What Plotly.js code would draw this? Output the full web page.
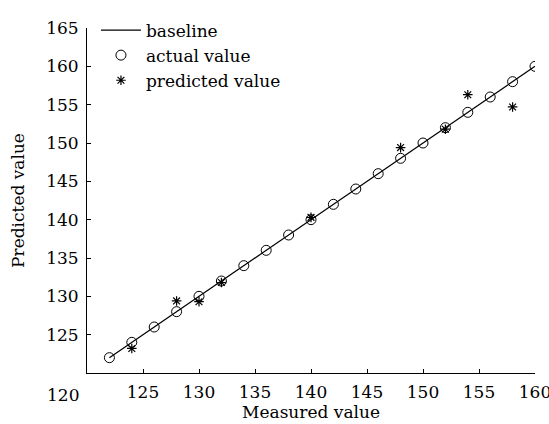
<!DOCTYPE html>
<html>
<head>
<meta charset="utf-8">
<script src="https://cdn.plot.ly/plotly-3.0.1.min.js"></script>
<style>html,body{margin:0;padding:0;background:#fff;}#chart{width:549px;height:424px;}</style>
</head>
<body>
<div id="chart"></div>
<script>
// Data
const actualX = [122,124,126,128,130,132,134,136,138,140,142,144,146,148,150,152,154,156,158,160];
const actualY = [122,124,126,128,130,132,134,136,138,140,142,144,146,148,150,152,154,156,158,160];
const predX = [124,128,130,132,140,148,152,154,158];
const predY = [123.2,129.4,129.3,131.8,140.3,149.4,151.8,156.3,154.7];
const xTicks = [125,130,135,140,145,150,155,160];
const yTicks = [125,130,135,140,145,150,155,160,165];

const fontFam = '"DejaVu Serif", "Liberation Serif", serif';
const fs = 17;

const traces = [
  {x: actualX, y: actualY, mode: 'lines', name: 'baseline',
   line: {color: '#000', width: 1.2}},
  {x: actualX, y: actualY, mode: 'markers', name: 'actual value',
   marker: {symbol: 'circle-open', size: 10, color: '#000', line: {color: '#000', width: 1}}},
  {x: predX, y: predY, mode: 'markers', name: 'predicted value',
   marker: {symbol: 'asterisk-open', size: 8, color: '#000', line: {color: '#000', width: 1.2}}}
];

const layout = {
  width: 549, height: 424,
  margin: {l: 87, r: 14, t: 20, b: 51},
  paper_bgcolor: '#fff', plot_bgcolor: '#fff',
  font: {family: fontFam, size: fs, color: '#000'},
  showlegend: true,
  legend: {x: 0.02, y: 1.045, xanchor: 'left', yanchor: 'top', bgcolor: 'rgba(0,0,0,0)',
           font: {family: fontFam, size: fs, color: '#000'}, tracegroupgap: 0, itemwidth: 40},
  xaxis: {range: [120, 160], tickvals: xTicks, ticktext: xTicks.map(String),
          showgrid: false, zeroline: false, showline: true, linecolor: '#000', linewidth: 1,
          ticks: 'inside', ticklen: 4, tickcolor: '#000', mirror: false, ticklabelstandoff: 4,
          ticklabeloverflow: 'allow',
          title: {text: 'Measured value', font: {family: fontFam, size: fs, color: '#000'}, standoff: 2}},
  yaxis: {range: [120, 165], tickvals: yTicks, ticktext: yTicks.map(String),
          showgrid: false, zeroline: false, showline: true, linecolor: '#000', linewidth: 1,
          ticks: 'inside', ticklen: 4, tickcolor: '#000', mirror: false, ticklabelstandoff: 4,
          title: {text: 'Predicted value', font: {family: fontFam, size: fs, color: '#000'}, standoff: 17}},
  annotations: [{text: '120', xref: 'paper', yref: 'paper', x: -0.054, y: -0.03,
                 xanchor: 'center', yanchor: 'top', showarrow: false,
                 font: {family: fontFam, size: fs, color: '#000'}}]
};

Plotly.newPlot('chart', traces, layout, {displayModeBar: false, staticPlot: true});
</script>
</body>
</html>
